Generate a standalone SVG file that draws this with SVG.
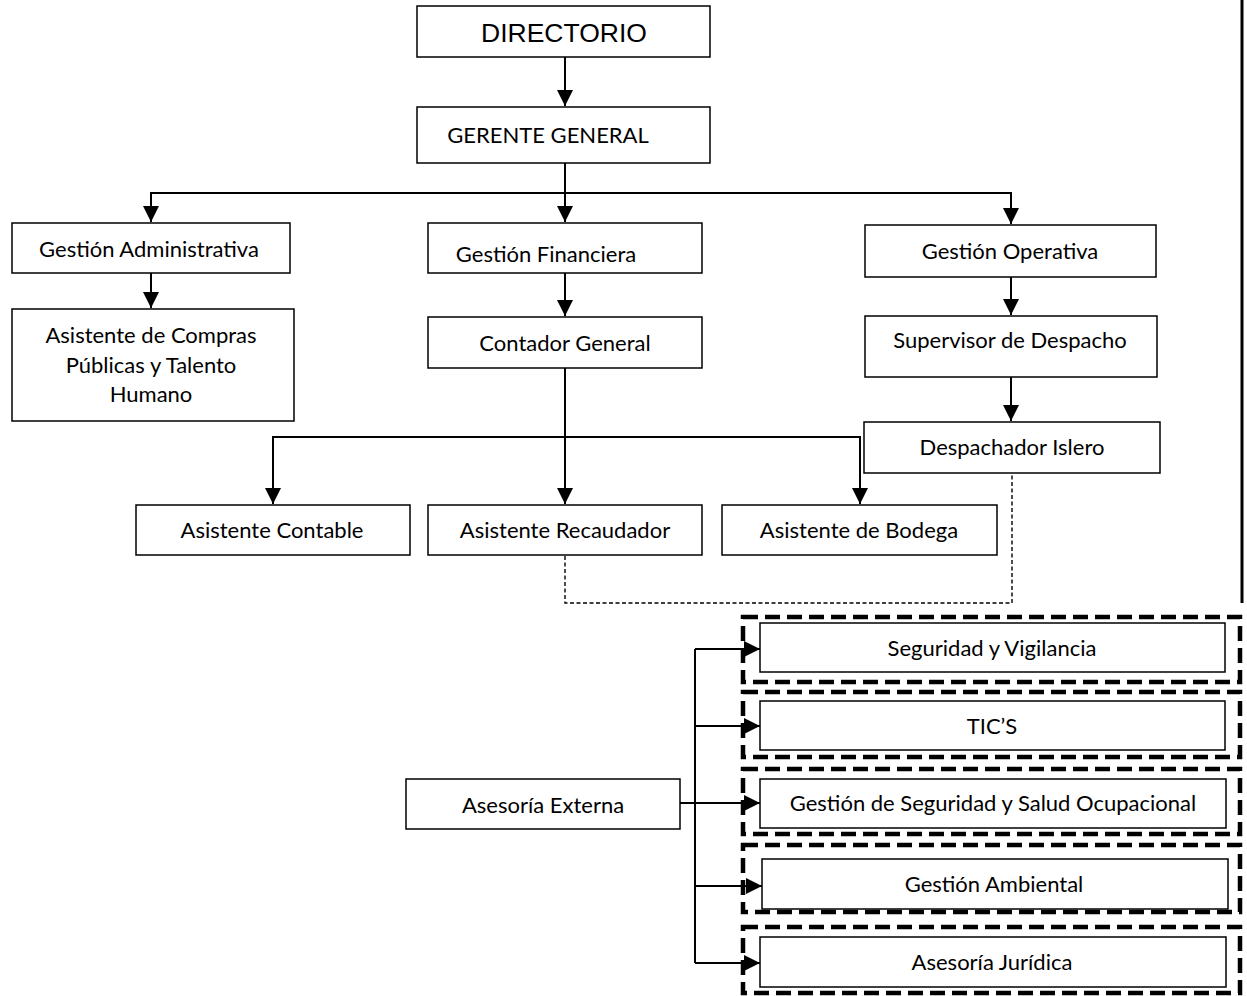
<svg xmlns="http://www.w3.org/2000/svg" width="1247" height="996" viewBox="0 0 1247 996">
<style>
.box{fill:#fff;stroke:#000;stroke-width:1.5}
.t{font-family:Lato,"Open Sans","Liberation Sans",sans-serif;font-size:22px;fill:#000;text-anchor:middle}
.ta{font-family:"Liberation Sans",Arial,sans-serif;font-size:26.5px;fill:#000;text-anchor:middle}
.ln{stroke:#000;stroke-width:2;fill:none}
.dl{stroke:#000;stroke-width:1.4;stroke-dasharray:4 2.5;fill:none}
.outer{fill:none;stroke:#000;stroke-width:4.5;stroke-dasharray:15 7}
</style>
<defs>
<marker id="ah" viewBox="0 0 10 10" refX="10" refY="5" markerWidth="16" markerHeight="16" markerUnits="userSpaceOnUse" orient="auto">
<path d="M0,0 L10,5 L0,10 z" fill="#000"/>
</marker>
</defs>
<rect width="1247" height="996" fill="#fff"/>

<g id="connectors">
<path class="ln" d="M565,57 V106" marker-end="url(#ah)"/>
<path class="ln" d="M565,163 V222" marker-end="url(#ah)"/>
<path class="ln" d="M565,193 H151 V222" marker-end="url(#ah)"/>
<path class="ln" d="M565,193 H1011 V224" marker-end="url(#ah)"/>
<path class="ln" d="M151,273 V308" marker-end="url(#ah)"/>
<path class="ln" d="M565,273 V316" marker-end="url(#ah)"/>
<path class="ln" d="M1011,277 V315" marker-end="url(#ah)"/>
<path class="ln" d="M1011,377 V421" marker-end="url(#ah)"/>
<path class="ln" d="M565,368 V504" marker-end="url(#ah)"/>
<path class="ln" d="M565,437 H273 V504" marker-end="url(#ah)"/>
<path class="ln" d="M565,437 H860 V504" marker-end="url(#ah)"/>
<path class="dl" d="M565,556 V603 H1012 V473"/>
<path class="ln" d="M680,803 H760" marker-end="url(#ah)"/>
<path class="ln" d="M695,649 V963"/>
<path class="ln" d="M695,649 H760" marker-end="url(#ah)"/>
<path class="ln" d="M695,726 H760" marker-end="url(#ah)"/>
<path class="ln" d="M695,886 H762" marker-end="url(#ah)"/>
<path class="ln" d="M695,963 H760" marker-end="url(#ah)"/>
<path d="M1242,0 V603" stroke="#000" stroke-width="3" fill="none"/>
</g>

<g id="directorio"><rect class="box" x="417" y="6" width="293" height="51"/><text class="ta" x="564" y="42">DIRECTORIO</text></g>
<g id="gerente"><rect class="box" x="417" y="107" width="293" height="56"/><text class="t" x="548" y="143">GERENTE GENERAL</text></g>

<g id="gestion-administrativa"><rect class="box" x="12" y="223" width="278" height="50"/><text class="t" x="149" y="257">Gestión Administrativa</text></g>
<g id="asistente-compras"><rect class="box" x="12" y="309" width="282" height="112"/>
<text class="t" x="151" y="343">Asistente de Compras</text>
<text class="t" x="151" y="373">Públicas y Talento</text>
<text class="t" x="151" y="402">Humano</text></g>

<g id="gestion-financiera"><rect class="box" x="428" y="223" width="274" height="50"/><text class="t" x="546" y="262">Gestión Financiera</text></g>
<g id="contador"><rect class="box" x="428" y="317" width="274" height="51"/><text class="t" x="565" y="351">Contador General</text></g>

<g id="gestion-operativa"><rect class="box" x="865" y="225" width="291" height="52"/><text class="t" x="1010" y="259">Gestión Operativa</text></g>
<g id="supervisor"><rect class="box" x="865" y="316" width="292" height="61"/><text class="t" x="1010" y="348">Supervisor de Despacho</text></g>
<g id="despachador"><rect class="box" x="864" y="422" width="296" height="51"/><text class="t" x="1012" y="455">Despachador Islero</text></g>

<g id="asistente-contable"><rect class="box" x="136" y="505" width="274" height="50"/><text class="t" x="272" y="538">Asistente Contable</text></g>
<g id="asistente-recaudador"><rect class="box" x="428" y="505" width="274" height="50"/><text class="t" x="565" y="538">Asistente Recaudador</text></g>
<g id="asistente-bodega"><rect class="box" x="722" y="505" width="275" height="50"/><text class="t" x="859" y="538">Asistente de Bodega</text></g>

<g id="asesoria-externa"><rect class="box" x="406" y="779" width="274" height="50"/><text class="t" x="543" y="813">Asesoría Externa</text></g>

<g id="seguridad-vigilancia"><rect class="outer" x="743" y="617" width="497" height="65"/><rect class="box" x="760" y="623" width="465" height="49"/><text class="t" x="992" y="656">Seguridad y Vigilancia</text></g>
<g id="tics"><rect class="outer" x="743" y="692" width="497" height="65"/><rect class="box" x="760" y="701" width="465" height="49"/><text class="t" x="992" y="734">TIC’S</text></g>
<g id="seguridad-salud"><rect class="outer" x="743" y="769" width="497" height="65"/><rect class="box" x="760" y="779" width="466" height="49"/><text class="t" x="993" y="811">Gestión de Seguridad y Salud Ocupacional</text></g>
<g id="gestion-ambiental"><rect class="outer" x="743" y="845" width="497" height="67"/><rect class="box" x="762" y="859" width="466" height="50"/><text class="t" x="994" y="892">Gestión Ambiental</text></g>
<g id="asesoria-juridica"><rect class="outer" x="743" y="927" width="497" height="66"/><rect class="box" x="760" y="937" width="466" height="50"/><text class="t" x="992" y="970">Asesoría Jurídica</text></g>
</svg>
